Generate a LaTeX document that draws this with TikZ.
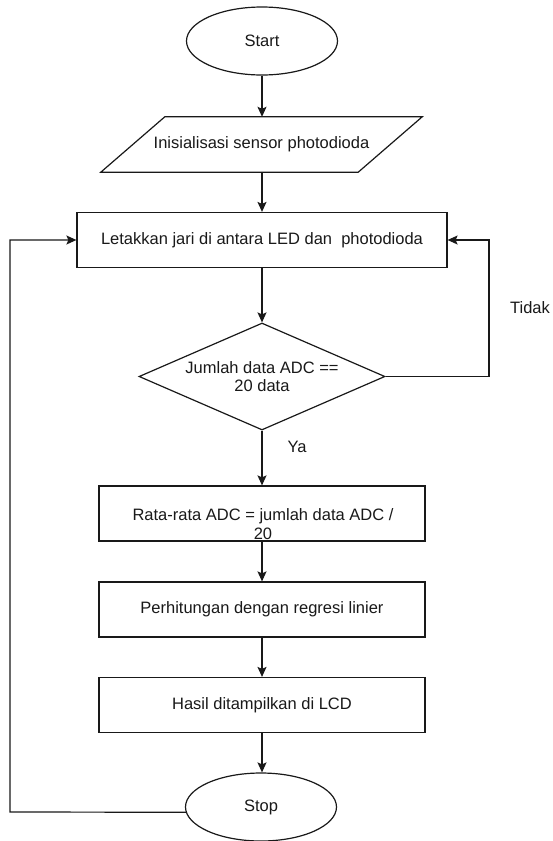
\documentclass[tikz,border=0pt]{standalone}
\usepackage{fontspec}
\setmainfont{Liberation Sans}
\usetikzlibrary{shapes.geometric,arrows.meta}
\begin{document}
\begin{tikzpicture}[x=1pt,y=-1pt,
  every node/.style={font=\fontsize{16.5}{18.5}\selectfont, text=black!90},
  flow/.style={draw=black!90, line width=1.2pt},
  terminal/.style={flow, ellipse, minimum width=151pt, minimum height=68pt, inner sep=0pt},
  io/.style={rectangle, minimum width=257pt, minimum height=55pt, inner sep=0pt},
  process/.style={flow, rectangle, minimum height=55pt, inner sep=0pt},
  decision/.style={flow, diamond, aspect=2.3, minimum width=246pt, minimum height=107pt, inner sep=0pt},
  link/.style={draw=black!90, line width=1.2pt, -{Stealth[length=10pt,width=9pt,inset=2pt]}},
  plain/.style={inner sep=0pt}
]
\fill[white] (0,0) rectangle (552,841);
\useasboundingbox (0,0) rectangle (552,841);

% flowchart steps
\node[terminal] (start) at (262,41) {Start};
\node[io] (init) at (261.5,144.5) {Inisialisasi sensor photodioda};
% slanted input/output outline around the init step
\draw[flow] ([xshift=32pt]init.north west) -- ([xshift=32pt]init.north east)
  -- ([xshift=-32pt]init.south east) -- ([xshift=-32pt]init.south west) -- cycle;
\node[process, minimum width=370pt] (place) at (262,240) {Letakkan jari di antara LED dan\ \ photodioda};
\node[decision, align=center] (check) at (262,376.5) {Jumlah data ADC ==\\20 data};
\node[process, minimum width=326pt] (avg) at (262,513.5) {};
\node[plain, align=center] (avgtext) at (263,524) {Rata-rata ADC = jumlah data ADC /\\20};
\node[process, minimum width=326pt] (regr) at (262,609.5) {Perhitungan dengan regresi linier};
\node[process, minimum width=326pt] (show) at (262,705) {Hasil ditampilkan di LCD};
\node[terminal] (stop) at (261,807) {Stop};

% branch labels
\node[plain] (yes) at (297,447) {Ya};
\node[plain] (no) at (530,308) {Tidak};

% main flow
\draw[link] (start.south) -- (start.south |- init.north);
\draw[link] (start.south |- init.south) -- (start.south |- place.north);
\draw[link] (place.south) -- (check.north);
\draw[link] (check.south) -- (avg.north);
\draw[link] (avg.south) -- (regr.north);
\draw[link] (regr.south) -- (show.north);
\draw[link] (show.south) -- (show.south |- stop.north);

% loops back to the measuring step
\coordinate (noturn) at (489,376.5);
\draw[link] (check.east) -- (noturn) |- (place.east);
\coordinate (back) at (10,812);
\draw[link] (stop.184) -- (back) |- (place.west);
\end{tikzpicture}
\end{document}
